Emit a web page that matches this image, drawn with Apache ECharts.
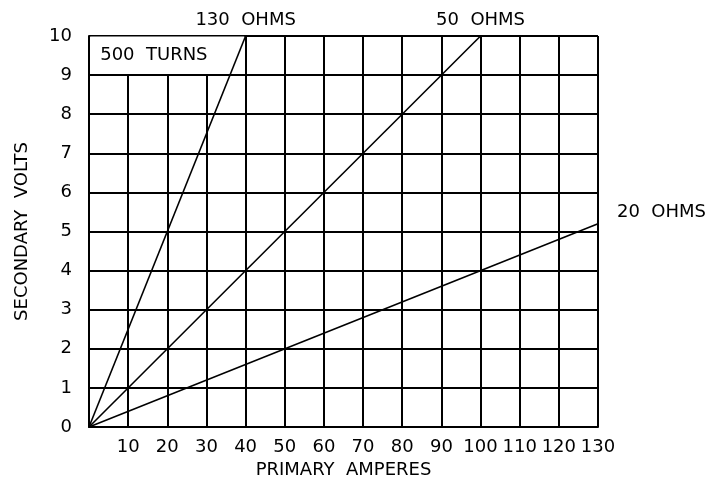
<!DOCTYPE html>
<html>
<head>
<meta charset="utf-8">
<script src="https://cdn.jsdelivr.net/npm/echarts@6/dist/echarts.min.js"></script>
<style>html,body{margin:0;padding:0;background:#fff}#c{width:720px;height:480px}</style>
</head>
<body>
<div id="c"></div>
<script>
const ohms130 = [[0, 0], [40, 10]];
const ohms50 = [[0, 0], [100, 10]];
const ohms20 = [[0, 0], [130, 5.2]];
const seriesNames = ['130  OHMS', '50  OHMS', '20  OHMS'];
const boxLabel = '500  TURNS';
const xName = 'PRIMARY  AMPERES';
const yName = 'SECONDARY  VOLTS';

const FONT = 'DejaVu Sans';
const FS = 18;
const txt = { fontFamily: FONT, fontSize: FS, color: '#000' };
const chart = echarts.init(document.getElementById('c'), null, { renderer: 'canvas' });
const lineStyle = { color: '#000', width: 1.6 };

function endLabel(name, pos, offset) {
  return {
    show: true, formatter: name, position: pos, offset: offset,
    fontFamily: FONT, fontSize: FS, color: '#000'
  };
}

chart.setOption({
  animation: false,
  backgroundColor: '#fff',
  grid: { left: 89, right: 122, top: 36, bottom: 53, containLabel: false, outerBoundsMode: 'none' },
  xAxis: {
    type: 'value', min: 0, max: 130, interval: 10,
    name: xName, nameLocation: 'middle', nameGap: 32,
    nameTextStyle: txt,
    axisLine: { show: true, lineStyle: { color: '#000', width: 2 } },
    axisTick: { show: false },
    axisLabel: Object.assign({ margin: 11, formatter: v => v === 0 ? '' : String(v) }, txt),
    splitLine: { show: true, lineStyle: { color: '#000', width: 2 } }
  },
  yAxis: {
    type: 'value', min: 0, max: 10, interval: 1,
    name: yName, nameLocation: 'middle', nameGap: 58,
    nameTextStyle: txt,
    axisLine: { show: true, lineStyle: { color: '#000', width: 2 } },
    axisTick: { show: false },
    axisLabel: Object.assign({ margin: 17 }, txt),
    splitLine: { show: true, lineStyle: { color: '#000', width: 2 } }
  },
  series: [
    {
      type: 'line', name: seriesNames[0], data: ohms130, showSymbol: false, symbol: 'none',
      lineStyle: lineStyle, silent: true,
      markPoint: {
        symbol: 'circle', symbolSize: 0,
        data: [{ coord: ohms130[1], label: endLabel(seriesNames[0], 'top', [0, -2]) }]
      },
      markArea: {
        silent: true, z: 1,
        itemStyle: { color: '#fff', borderWidth: 0 },
        label: { show: true, position: 'insideLeft', distance: 10, fontFamily: FONT, fontSize: FS, color: '#000' },
        data: [[{ coord: [0.3, 9.03], name: boxLabel }, { coord: [39.7, 9.99] }]]
      }
    },
    {
      type: 'line', name: seriesNames[1], data: ohms50, showSymbol: false, symbol: 'none',
      lineStyle: lineStyle, silent: true,
      markPoint: {
        symbol: 'circle', symbolSize: 0,
        data: [{ coord: ohms50[1], label: endLabel(seriesNames[1], 'top', [0, -2]) }]
      }
    },
    {
      type: 'line', name: seriesNames[2], data: ohms20, showSymbol: false, symbol: 'none',
      lineStyle: lineStyle, silent: true,
      markPoint: {
        symbol: 'circle', symbolSize: 0,
        data: [{ coord: ohms20[1], label: endLabel(seriesNames[2], 'right', [14, -11]) }]
      }
    }
  ]
});
</script>
</body>
</html>
